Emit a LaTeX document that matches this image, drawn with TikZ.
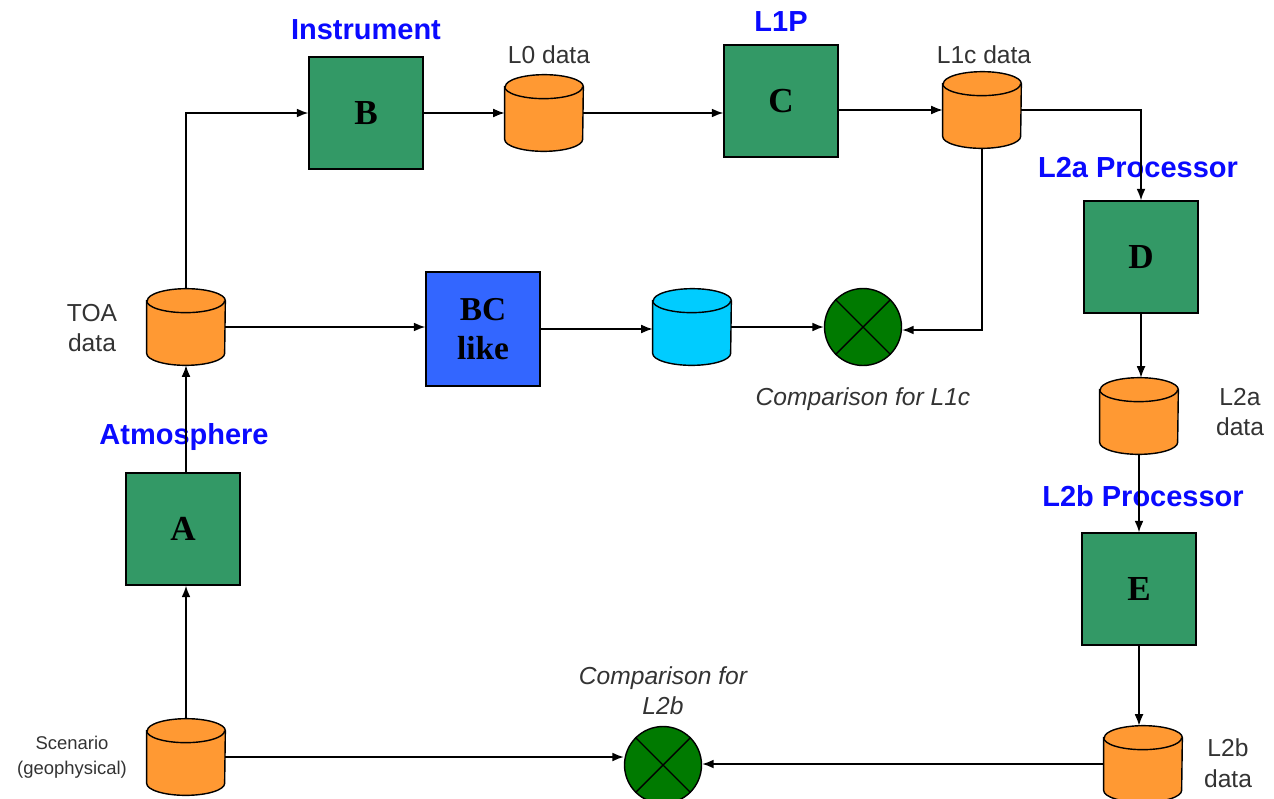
\documentclass[tikz,border=0pt]{standalone}
\usepackage{fontspec}
\setmainfont{Liberation Sans}
\newfontfamily\boxfont{Liberation Serif}
\usetikzlibrary{arrows.meta}
\definecolor{boxgreen}{HTML}{339966}
\definecolor{cylorange}{HTML}{FF9933}
\definecolor{cylcyan}{HTML}{00CCFF}
\definecolor{bcblue}{HTML}{3366FF}
\definecolor{cmpgreen}{HTML}{007A00}
\definecolor{lblblue}{HTML}{0A0AFF}
\definecolor{lblgray}{HTML}{333333}
\newcommand\crx{0.78cm}
\newcommand\cry{0.24cm}
\newcommand\cylnode[4]{%
  \node[cylbox] (#1) at (#2,#3) {};
  \draw[cylline, fill=#4] ([yshift=-\cry]#1.north west) -- ([yshift=\cry]#1.south west)
    arc[start angle=180,end angle=360,x radius=\crx,y radius=\cry]
    -- ([yshift=-\cry]#1.north east)
    arc[start angle=0,end angle=180,x radius=\crx,y radius=\cry] -- cycle;
  \draw[cylline] ([yshift=-\cry]#1.north west)
    arc[start angle=180,end angle=360,x radius=\crx,y radius=\cry];
}
\tikzset{
  procbox/.style={draw=black, line width=0.8pt, fill=boxgreen, minimum width=2.28cm, minimum height=2.24cm,
    inner sep=0pt, font=\boxfont\bfseries\fontsize{20}{22}\selectfont},
  cylbox/.style={rectangle, minimum width=1.56cm, minimum height=1.52cm, inner sep=0pt},
  cylline/.style={draw=black, line width=0.8pt},
  cmp/.style={circle, draw=black, line width=0.8pt, fill=cmpgreen, minimum size=1.54cm, inner sep=0pt},
  arr/.style={draw=black, line width=0.8pt, -{Latex[length=6.5pt,width=5pt]}},
  bluelbl/.style={text=lblblue, font=\bfseries\fontsize{16.5}{19}\selectfont},
  graylbl/.style={text=lblgray, align=center, font=\fontsize{14}{17.5}\selectfont},
  itlbl/.style={text=lblgray, align=center, font=\itshape\fontsize{14}{17}\selectfont},
}
\begin{document}
\begin{tikzpicture}[x=0.02cm, y=-0.02cm]
\useasboundingbox (0,0) rectangle (1274,798);
% process boxes
\node[procbox] (A) at (183,529) {A};
\node[procbox] (B) at (366,113) {B};
\node[procbox] (C) at (781,101) {C};
\node[procbox] (D) at (1141,257) {D};
\node[procbox] (E) at (1139,589) {E};
\node[procbox, fill=bcblue, minimum height=2.28cm, align=center, font=\boxfont\bfseries\fontsize{19}{22}\selectfont] (BC) at (483,329) {BC\\like};
% cylinders
\cylnode{toa}{186}{327}{cylorange}
\cylnode{lzero}{544}{113}{cylorange}
\cylnode{lonec}{982}{110}{cylorange}
\cylnode{cyan}{692}{327}{cylcyan}
\cylnode{ltwoa}{1139}{416}{cylorange}
\cylnode{scen}{186}{757}{cylorange}
\cylnode{ltwob}{1143}{764}{cylorange}
% comparison nodes
\node[cmp] (cmpA) at (863,327) {};
\node[cmp] (cmpB) at (663,765) {};
\foreach \n in {cmpA,cmpB}{
  \draw[line width=0.8pt] (\n.45) -- (\n.225);
  \draw[line width=0.8pt] (\n.135) -- (\n.315);
}
% labels
\node[bluelbl] (linstr) at (366,30) {Instrument};
\node[bluelbl] (llonep) at (781,22) {L1P};
\node[bluelbl] (lltwoa) at (1138,168) {L2a Processor};
\node[bluelbl] (latm) at (184,437) {Atmosphere};
\node[bluelbl] (lltwob) at (1143,496) {L2b Processor};
\node[graylbl] (tlzero) at (549,55) {L0 data};
\node[graylbl] (tlonec) at (984,55) {L1c data};
\node[graylbl] (ttoa) at (92,328) {TOA\\data};
\node[graylbl] (tltwoa) at (1240,412) {L2a\\data};
\node[graylbl] (tltwob) at (1228,763) {L2b\\data};
\node[text=lblgray, align=center, font=\fontsize{10.5}{14}\selectfont] (tscen) at (72,757) {Scenario\\(geophysical)};
\node[itlbl] (tcmpA) at (863,399) {Comparison for L1c};
\node[itlbl] (tcmpB) at (663,691) {Comparison for\\L2b};
% connectors
\draw[arr] (scen.north) -- (scen.north |- A.south);
\draw[arr] (toa.south |- A.north) -- (toa.south);
\draw[arr] (toa.north) |- (B.west);
\draw[arr] (B.east) -- (B.east -| lzero.west);
\draw[arr] (lzero.east) -- (lzero.east -| C.west);
\draw[arr] (lonec.west -| C.east) -- (lonec.west);
\draw[arr] (lonec.east) -| (D.north);
\draw[arr] (lonec.south) |- ([yshift=-0.06cm]cmpA.east);
\draw[arr] (toa.east) -- (toa.east -| BC.west);
\draw[arr] (BC.east) -- (BC.east -| cyan.west);
\draw[arr] (cyan.east) -- (cyan.east -| cmpA.west);
\draw[arr] (D.south) -- (D.south |- ltwoa.north);
\draw[arr] (ltwoa.south) -- (ltwoa.south |- E.north);
\draw[arr] (E.south) -- (E.south |- ltwob.north);
\draw[arr] (ltwob.west) -- (ltwob.west -| cmpB.east);
\draw[arr] (scen.east) -- (scen.east -| cmpB.west);
\end{tikzpicture}
\end{document}
